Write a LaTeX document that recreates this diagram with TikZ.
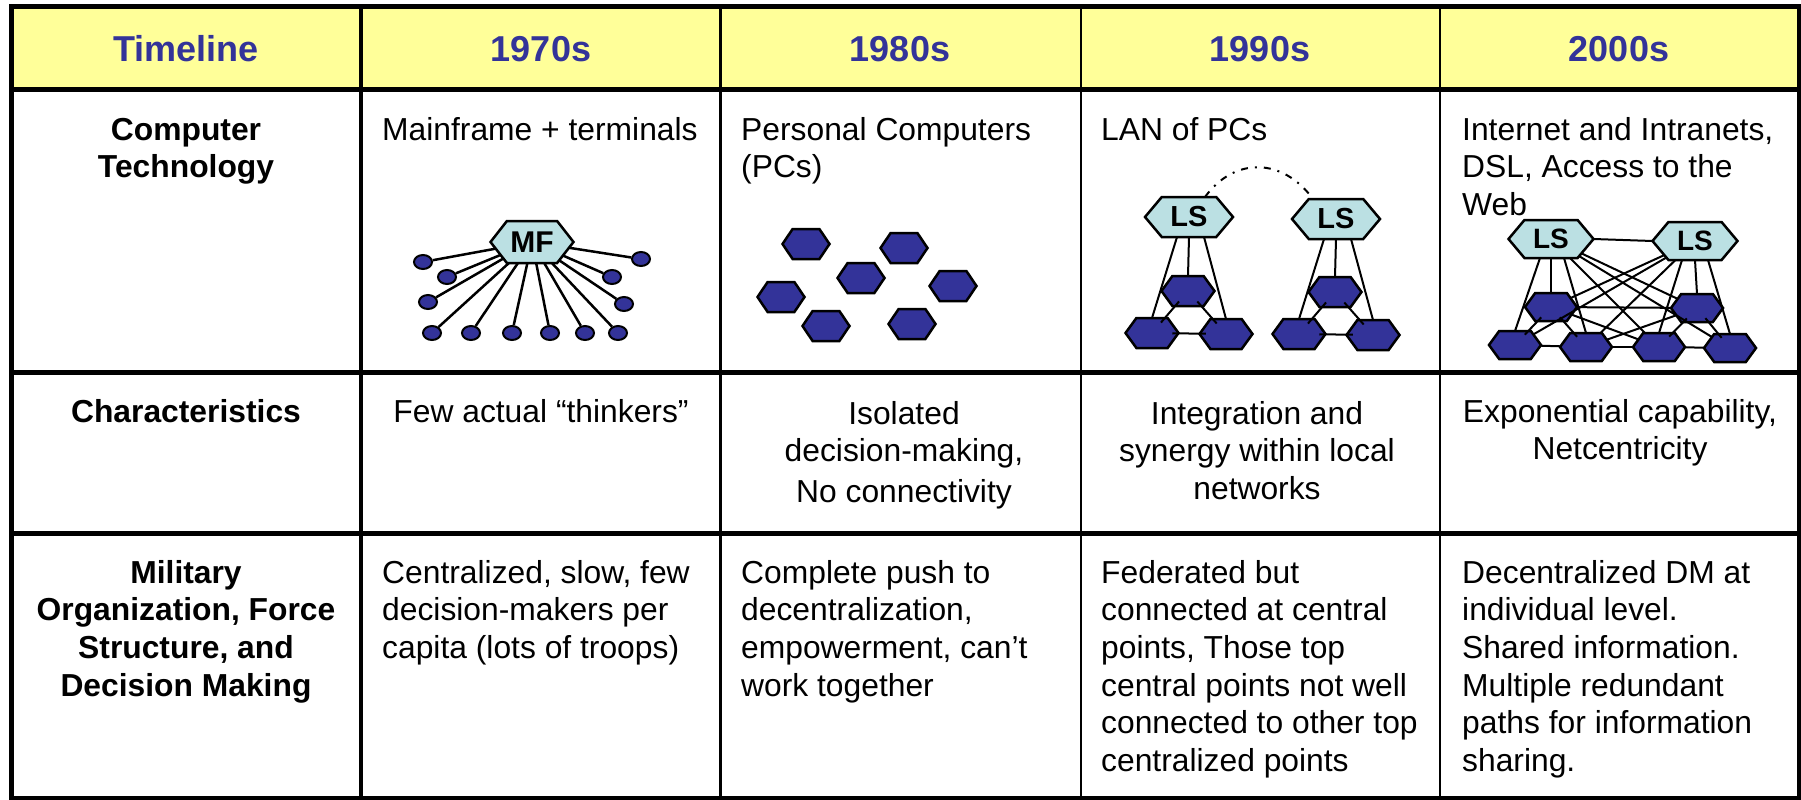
\documentclass[tikz,border=0pt]{standalone}
\usepackage{fontspec}
\setmainfont{Liberation Sans}
\usetikzlibrary{shapes.geometric,shapes.symbols}
\definecolor{hdrfill}{RGB}{255,255,153}
\definecolor{navy}{RGB}{51,51,153}
\definecolor{lsfill}{RGB}{187,224,227}
\newcommand{\cellleft}[1]{\begin{tabular}[t]{@{}l@{}}#1\end{tabular}}
\newcommand{\cellcenter}[1]{\begin{tabular}[t]{@{}c@{}}#1\end{tabular}}
\begin{document}
\begin{tikzpicture}[x=1pt,y=-1pt,
  hdr/.style={font=\fontsize{36}{43}\selectfont\bfseries, text=navy, anchor=base, inner sep=0},
  rowhead/.style={font=\fontsize{31.8}{37.7}\selectfont\bfseries, anchor=base, inner sep=0},
  cellL/.style={font=\fontsize{31.8}{37.7}\selectfont, anchor=base west, inner sep=0},
  cellC/.style={font=\fontsize{31.8}{37.7}\selectfont, anchor=base, inner sep=0},
  hexbase/.style={signal, signal to=east and west, draw=black, inner sep=0, outer sep=0},
  mfhex/.style={hexbase, fill=lsfill, line width=2.5pt, minimum width=83pt, minimum height=42pt, signal pointer angle=104, font=\fontsize{30}{30}\selectfont\bfseries},
  lshex/.style={hexbase, fill=lsfill, line width=2.5pt, minimum width=88pt, minimum height=40pt, signal pointer angle=100, font=\fontsize{29}{29}\selectfont\bfseries},
  lshexs/.style={hexbase, fill=lsfill, line width=2.5pt, minimum width=85pt, minimum height=38pt, signal pointer angle=100, font=\fontsize{28}{28}\selectfont\bfseries},
  bluehex/.style={hexbase, fill=navy, line width=2.5pt, minimum width=47pt, minimum height=30pt, signal pointer angle=112},
  bluehexm/.style={hexbase, fill=navy, line width=2.5pt, minimum width=53pt, minimum height=30pt, signal pointer angle=108},
  bluehexs/.style={hexbase, fill=navy, line width=2.5pt, minimum width=52pt, minimum height=28pt, signal pointer angle=108},
  term/.style={ellipse, draw=black, fill=navy, line width=2pt, minimum width=18pt, minimum height=14pt, inner sep=0},
  fan/.style={line width=2.5pt},
  conn/.style={line width=2pt},
  gridthick/.style={line width=5pt},
  gridthin/.style={line width=2.5pt}
]
\useasboundingbox (0,0) rectangle (1801,800);
\fill[white] (0,0) rectangle (1801,800);
% ---------- table ----------
\fill[hdrfill] (11,6.5) rectangle (1799,89.5);
\draw[gridthick] (11,89.5) -- (1799,89.5);
\draw[gridthick] (11,372.5) -- (1799,372.5);
\draw[gridthick] (11,533.5) -- (1799,533.5);
\draw[line width=4.5pt] (361,6.5) -- (361,798.5);
\draw[gridthin] (720.5,6.5) -- (720.5,798.5);
\draw[gridthin] (1081,6.5) -- (1081,798.5);
\draw[gridthin] (1440,6.5) -- (1440,798.5);
\draw[gridthick] (11,6.5) rectangle (1799,798.5);
% ---------- header ----------
\node[hdr] (h0) at (186,62) {Timeline};
\node[hdr] (h1) at (541,62) {1970s};
\node[hdr] (h2) at (900,62) {1980s};
\node[hdr] (h3) at (1260,62) {1990s};
\node[hdr] (h4) at (1619,62) {2000s};
% ---------- row 1 ----------
\node[rowhead] (r1) at (186,140) {\cellcenter{Computer\\Technology}};
\node[cellL] (c11) at (382,140) {\cellleft{Mainframe + terminals}};
\node[cellL] (c12) at (741,140) {\cellleft{Personal Computers\\(PCs)}};
\node[cellL] (c13) at (1101,140) {\cellleft{LAN of PCs}};
\node[cellL] (c14) at (1462,140) {\cellleft{Internet and Intranets,\\DSL, Access to the\\Web}};
% ---------- row 2 ----------
\node[rowhead] (r2) at (186,422) {\cellcenter{Characteristics}};
\node[cellC] (c21) at (541,422) {\cellcenter{Few actual “thinkers”}};
\node[cellC] (c22) at (904,424) {\cellcenter{Isolated\\decision-making,\\[3pt]No connectivity}};
\node[cellC] (c23) at (1257,424) {\cellcenter{Integration and\\synergy within local\\networks}};
\node[cellC] (c24) at (1620,422) {\cellcenter{Exponential capability,\\Netcentricity}};
% ---------- row 3 ----------
\node[rowhead] (r3) at (186,583) {\cellcenter{Military\\Organization, Force\\Structure, and\\Decision Making}};
\node[cellL] (c31) at (382,583) {\cellleft{Centralized, slow, few\\decision-makers per\\capita (lots of troops)}};
\node[cellL] (c32) at (741,583) {\cellleft{Complete push to\\decentralization,\\empowerment, can’t\\work together}};
\node[cellL] (c33) at (1101,583) {\cellleft{Federated but\\connected at central\\points, Those top\\central points not well\\connected to other top\\centralized points}};
\node[cellL] (c34) at (1462,583) {\cellleft{Decentralized DM at\\individual level.\\Shared information.\\Multiple redundant\\paths for information\\sharing.}};
% ---------- 1970s: mainframe ----------
\node[term] (t1) at (423,262) {};
\node[term] (t2) at (447,277) {};
\node[term] (t3) at (428,302) {};
\node[term] (t4) at (432,333) {};
\node[term] (t5) at (471,333) {};
\node[term] (t6) at (512,333) {};
\node[term] (t7) at (550,333) {};
\node[term] (t8) at (585,333) {};
\node[term] (t9) at (618,333) {};
\node[term] (t10) at (624,304) {};
\node[term] (t11) at (612,277) {};
\node[term] (t12) at (641,259) {};
\node[mfhex] (mf) at (532,242) {MF};
\foreach \i in {1,...,12} \draw[fan] (mf) -- (t\i);
% ---------- 1980s: isolated PCs ----------
\node[bluehex] (p1) at (806,244) {};
\node[bluehex] (p2) at (904,248) {};
\node[bluehex] (p3) at (861,278) {};
\node[bluehex] (p4) at (953,286) {};
\node[bluehex] (p5) at (781,297) {};
\node[bluehex] (p6) at (826,326) {};
\node[bluehex] (p7) at (912,324) {};
% ---------- 1990s: LANs ----------
\node[lshex] (lsa) at (1189,217) {LS};
\node[lshex] (lsb) at (1336,219) {LS};
\node[bluehexm] (la) at (1188,291) {};
\node[bluehexm] (lb) at (1152,333) {};
\node[bluehexm] (lc) at (1226,334) {};
\node[bluehexm] (ra) at (1335,292) {};
\node[bluehexm] (rb) at (1299,334) {};
\node[bluehexm] (rc) at (1373,335) {};
\draw[conn] ([xshift=-12pt]lsa.south) -- (lb.north);
\draw[conn] (lsa.south) -- (la.north);
\draw[conn] ([xshift=15pt]lsa.south) -- (lc.north);
\draw[conn, shorten <=-6pt, shorten >=-6pt] (la) -- (lb);
\draw[conn, shorten <=-6pt, shorten >=-6pt] (la) -- (lc);
\draw[conn, shorten <=-6pt, shorten >=-6pt] (lb) -- (lc);
\draw[conn] ([xshift=-12pt]lsb.south) -- (rb.north);
\draw[conn] (lsb.south) -- (ra.north);
\draw[conn] ([xshift=15pt]lsb.south) -- (rc.north);
\draw[conn, shorten <=-6pt, shorten >=-6pt] (ra) -- (rb);
\draw[conn, shorten <=-6pt, shorten >=-6pt] (ra) -- (rc);
\draw[conn, shorten <=-6pt, shorten >=-6pt] (rb) -- (rc);
\draw[conn, dash pattern=on 7pt off 7pt on 2pt off 7pt]
  ([xshift=16pt]lsa.north) .. controls +(30,-41) and +(-30,-41) .. ([xshift=-23pt]lsb.north);
% ---------- 2000s: internet ----------
\node[lshexs] (lsc) at (1551,239) {LS};
\node[lshexs] (lsd) at (1695,241) {LS};
\node[bluehexs] (m1) at (1551,307) {};
\node[bluehexs] (m2) at (1697,308) {};
\node[bluehexs] (n1) at (1515,345) {};
\node[bluehexs] (n2) at (1586,347) {};
\node[bluehexs] (n3) at (1659,347) {};
\node[bluehexs] (n4) at (1730,348) {};
\draw[conn] (lsc.east) -- (lsd.west);
\draw[conn] ([xshift=-11pt]lsc.south) -- (n1.north);
\draw[conn] (lsc.south) -- (m1.north);
\draw[conn] ([xshift=13pt]lsc.south) -- (n2.north);
\draw[conn] (lsc) -- (m2);
\draw[conn] (lsc) -- (n3);
\draw[conn] (lsc) -- (n4);
\draw[conn] ([xshift=-13pt]lsd.south) -- (n3.north);
\draw[conn] (lsd.south) -- (m2.north);
\draw[conn] ([xshift=13pt]lsd.south) -- (n4.north);
\draw[conn] (lsd) -- (m1);
\draw[conn] (lsd) -- (n1);
\draw[conn] (lsd) -- (n2);
\draw[conn] (m1) -- (m2);
\draw[conn, shorten <=-5pt, shorten >=-5pt] (m1) -- (n1);
\draw[conn, shorten <=-5pt, shorten >=-5pt] (m1) -- (n2);
\draw[conn, shorten <=-5pt, shorten >=-5pt] (m2) -- (n3);
\draw[conn, shorten <=-5pt, shorten >=-5pt] (m2) -- (n4);
\draw[conn] (m1) -- (n3);
\draw[conn] (m2) -- (n2);
\draw[conn] (n1) -- (n2);
\draw[conn] (n2) -- (n3);
\draw[conn] (n3) -- (n4);
\end{tikzpicture}
\end{document}
